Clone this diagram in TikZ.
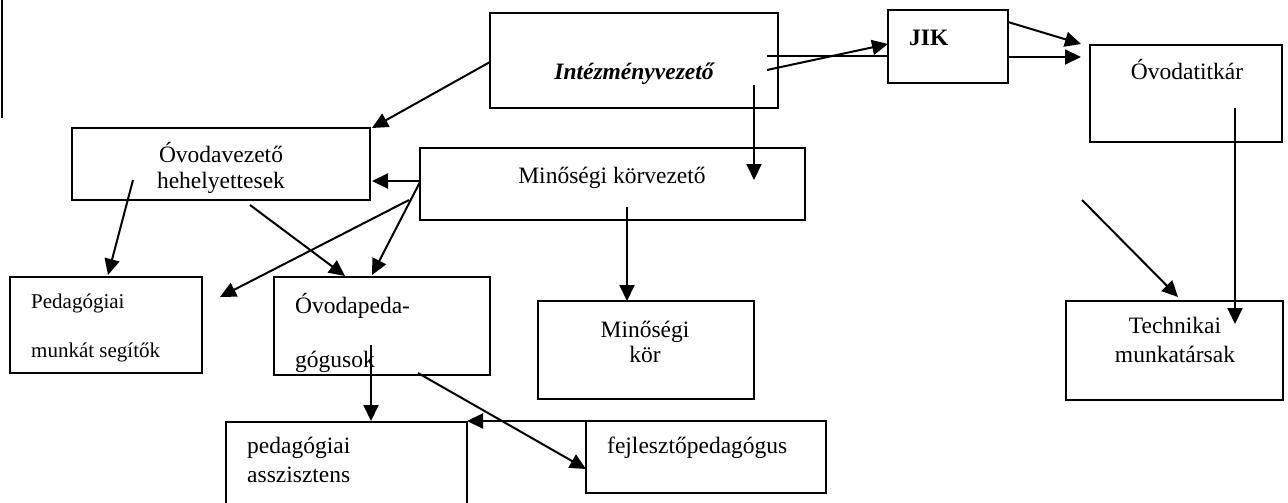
\documentclass[tikz,border=0pt]{standalone}
\usepackage{fontspec}
\setmainfont{Liberation Serif}
\usetikzlibrary{arrows.meta}
\begin{document}
\begin{tikzpicture}[x=1pt,y=-1pt,
  box/.style={draw,line width=1.8pt,rectangle,inner sep=0pt,outer sep=0pt},
  lbl/.style={inner sep=0pt,font=\fontsize{23.5}{28}\selectfont},
  slbl/.style={inner sep=0pt,font=\fontsize{21}{25}\selectfont},
  conn/.style={line width=2pt},
  arr/.style={line width=2pt,-{Triangle[length=16pt,width=15pt]}}]
\clip (0,0) rectangle (1288,503);
\useasboundingbox (0,0) rectangle (1288,503);
% stray vertical line at left edge
\draw[line width=2pt] (1.5,0) -- (1.5,118);
% boxes
\node[box,minimum width=288pt,minimum height=95pt] (iv) at (634,60.5) {};
\node[box,minimum width=120pt,minimum height=73pt] (jik) at (948,46.5) {};
\node[box,minimum width=192pt,minimum height=97pt] (tit) at (1186,93.5) {};
\node[box,minimum width=298pt,minimum height=72pt] (ovh) at (221,164) {};
\node[box,minimum width=385pt,minimum height=72pt] (mkv) at (612.5,184) {};
\node[box,minimum width=192pt,minimum height=96pt] (pms) at (106,325) {};
\node[box,minimum width=216pt,minimum height=98pt] (op) at (382,326) {};
\node[box,minimum width=216pt,minimum height=98pt] (mk) at (646,350) {};
\node[box,minimum width=217pt,minimum height=99pt] (tm) at (1174.5,350.5) {};
\node[box,minimum width=241pt,minimum height=108pt] (pa) at (346.5,476) {};
\node[box,minimum width=240pt,minimum height=72pt] (fp) at (706,457) {};
% texts
\node[lbl,anchor=base] (tiv) at (634,80) {\bfseries\itshape Intézményvezető};
\node[lbl,anchor=base west] (tjik) at (909,46) {\bfseries JIK};
\node[lbl,anchor=base] (ttit) at (1187,80) {Óvodatitkár};
\node[lbl,anchor=base] (tovh1) at (221,162) {Óvodavezető};
\node[lbl,anchor=base] (tovh2) at (221,188) {hehelyettesek};
\node[lbl,anchor=base] (tmkv) at (612,183) {Minőségi körvezető};
\node[slbl,anchor=base west] (tpms1) at (31,308) {Pedagógiai};
\node[slbl,anchor=base west] (tpms2) at (31,357) {munkát segítők};
\node[lbl,anchor=base west] (top1) at (295,313) {Óvodapeda-};
\begin{scope}
\clip (274,277) rectangle (490,375);
\node[lbl,anchor=base west] (top2) at (295,367) {gógusok};
\end{scope}
\node[lbl,anchor=base] (tmk1) at (645,337) {Minőségi};
\node[lbl,anchor=base] (tmk2) at (645,362) {kör};
\node[lbl,anchor=base] (ttm1) at (1175,333) {Technikai};
\node[lbl,anchor=base] (ttm2) at (1175,362) {munkatársak};
\node[lbl,anchor=base west] (tfp) at (607,453) {fejlesztőpedagógus};
\node[lbl,anchor=base west] (tpa1) at (247,453) {pedagógiai};
\node[lbl,anchor=base west] (tpa2) at (247,482) {asszisztens};
% connector end points
\coordinate (c1s) at (490,62);   \coordinate (c1e) at (372,128);
\coordinate (c2s) at (767,56);   \coordinate (c2e) at (888,56);
\coordinate (c3s) at (767,70);   \coordinate (c3e) at (888,44);
\coordinate (c4s) at (1008,22);  \coordinate (c4e) at (1081,44);
\coordinate (c5s) at (1008,57);  \coordinate (c5e) at (1081,57);
\coordinate (c6s) at (754,85);   \coordinate (c6e) at (754,180);
\coordinate (c7s) at (420,181);  \coordinate (c7e) at (372,181);
\coordinate (c8s) at (420,182);  \coordinate (c8e) at (372,275);
\coordinate (c9s) at (409,200);  \coordinate (c9e) at (220,297);
\coordinate (c10s) at (250,205); \coordinate (c10e) at (345,276);
\coordinate (c11s) at (133,180); \coordinate (c11e) at (108,275);
\coordinate (c12s) at (627,207); \coordinate (c12e) at (627,301);
\coordinate (c13s) at (1235,108);\coordinate (c13e) at (1235,324);
\coordinate (c14s) at (1082,200);\coordinate (c14e) at (1178,297);
\coordinate (c15s) at (371,345); \coordinate (c15e) at (371,421);
\coordinate (c16s) at (418,373); \coordinate (c16e) at (586,469);
\coordinate (c17s) at (586,421); \coordinate (c17e) at (467,421);
% connectors
\draw[arr] (c1s) -- (c1e);
\draw[conn] (c2s) -- (c2e);
\draw[arr] (c3s) -- (c3e);
\draw[arr] (c4s) -- (c4e);
\draw[arr] (c5s) -- (c5e);
\draw[arr] (c6s) -- (c6e);
\draw[arr] (c7s) -- (c7e);
\draw[arr] (c8s) -- (c8e);
\draw[arr] (c9s) -- (c9e);
\draw[arr] (c10s) -- (c10e);
\draw[arr] (c11s) -- (c11e);
\draw[arr] (c12s) -- (c12e);
\draw[arr] (c13s) -- (c13e);
\draw[arr] (c14s) -- (c14e);
\draw[arr] (c15s) -- (c15e);
\draw[arr] (c16s) -- (c16e);
\draw[arr] (c17s) -- (c17e);
\end{tikzpicture}
\end{document}
